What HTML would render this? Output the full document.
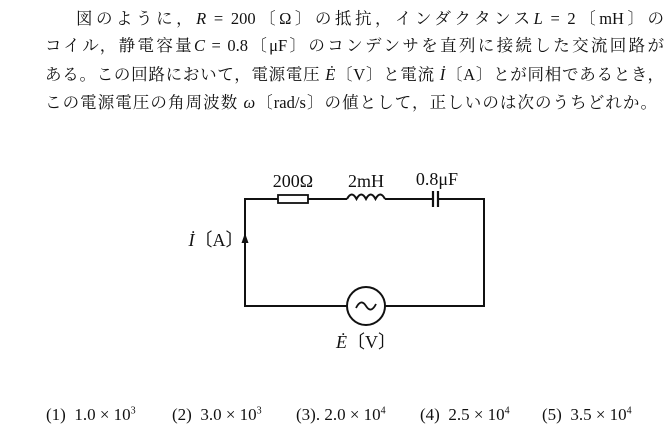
<!DOCTYPE html>
<html><head><meta charset="utf-8"><style>
body{margin:0;width:672px;height:428px;background:#fff;overflow:hidden;position:relative;font-family:"Liberation Serif","Noto Serif CJK SC",serif;color:#111}
.l{position:absolute;font-size:16.5px;white-space:nowrap;text-align:justify;text-align-last:justify;line-height:24px}
.a{position:absolute;top:405px;font-size:17px;white-space:nowrap}
sup{font-size:10px}
i{font-style:italic}
</style></head><body>
<div class="l" style="left:76px;top:7px;width:588px">図のように，<i>R</i> = 200〔Ω〕の抵抗，インダクタンス<i>L</i> = 2〔mH〕の</div>
<div class="l" style="left:45px;top:34px;width:619px">コイル，静電容量<i>C</i> = 0.8〔μF〕のコンデンサを直列に接続した交流回路が</div>
<div class="l" style="left:45px;top:63px;width:619px">ある。この回路において，電源電圧 <i>Ė</i>〔V〕と電流 <i>İ</i>〔A〕とが同相であるとき，</div>
<div class="l" style="left:45px;top:91px;width:612px">この電源電圧の角周波数 <i>ω</i>〔rad/s〕の値として，正しいのは次のうちどれか。</div>
<svg style="position:absolute;left:0;top:0" width="672" height="428">
<g fill="none" stroke="#111" stroke-width="2">
<path d="M278 199H245V306H347M385 306H484V199H438M433 199H385M347 199H308"/>
<rect x="278" y="195" width="30" height="8" stroke-width="1.8"/>
<path d="M347 199 q4.75 -9 9.5 0 q4.75 -9 9.5 0 q4.75 -9 9.5 0 q4.75 -9 9.5 0"/>
<path d="M433 191V207M438 191V207" stroke-width="2.2"/>
<circle cx="366" cy="306" r="19"/>
<path d="M356 308 q5 -10 10 -2 q5 8 10 -2" stroke-width="1.8"/>
</g>
<path d="M245 233l-3.5 10h7z" fill="#111"/>
<g font-family="Liberation Serif,serif" font-size="18" fill="#111" text-anchor="middle">
<text x="293" y="187">200Ω</text>
<text x="366" y="187">2mH</text>
<text x="437" y="185">0.8μF</text>
<text x="366" y="348"><tspan font-style="italic">Ė</tspan>〔V〕</text>
<text x="216" y="246"><tspan font-style="italic">İ</tspan>〔A〕</text>
</g>
</svg>
<div class="a" style="left:46px">(1)&nbsp; 1.0 × 10<sup>3</sup></div>
<div class="a" style="left:172px">(2)&nbsp; 3.0 × 10<sup>3</sup></div>
<div class="a" style="left:296px">(3).&nbsp;2.0 × 10<sup>4</sup></div>
<div class="a" style="left:420px">(4)&nbsp; 2.5 × 10<sup>4</sup></div>
<div class="a" style="left:542px">(5)&nbsp; 3.5 × 10<sup>4</sup></div>
</body></html>
